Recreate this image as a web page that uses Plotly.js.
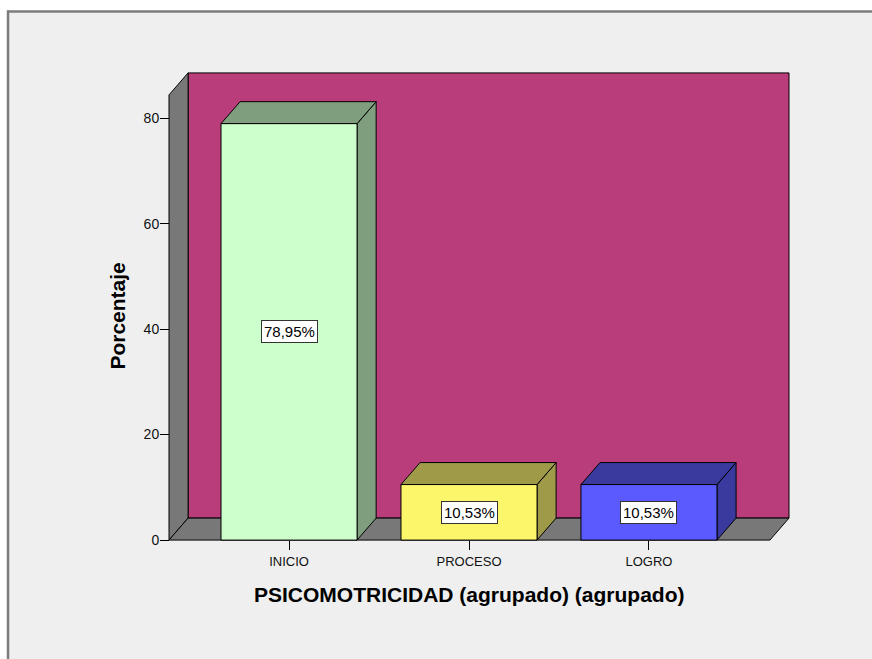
<!DOCTYPE html>
<html>
<head>
<meta charset="utf-8">
<script src="https://cdn.plot.ly/plotly-3.0.1.min.js"></script>
<style>html,body{margin:0;padding:0;background:#fff;}#chart{width:872px;height:659px;}</style>
</head>
<body>
<div id="chart"></div>
<script>
// ---- data ----
const categories = ['INICIO', 'PROCESO', 'LOGRO'];
const values = [78.95, 10.53, 10.53];
const yTickVals = [0, 20, 40, 60, 80];
const yTitle = 'Porcentaje';
const xTitle = 'PSICOMOTRICIDAD (agrupado) (agrupado)';

// ---- style ----
const frontColors = ['#ccffcc', '#fcf76a', '#5a5aff'];
const sideColors  = ['#7e9e7e', '#9e9a48', '#3a3a9e'];
const wallColor = '#ba3d7b';
const sideWall = '#787878';
const FONT = 'Liberation Sans, Arial, sans-serif';

// 3D geometry (data units)
const xMin = -0.667, xMax = 2.672; // front floor extent
const yTop = 84.4;                 // front top of left wall
const dX = 0.106, dY = 4.17;       // depth offset
const halfW = 0.378;               // half bar width
const padX = 0.05, padY = 1.5;

const traces = [];
function poly(xs, ys, color) {
  traces.push({
    type: 'scatter', mode: 'lines', x: xs.concat([xs[0]]), y: ys.concat([ys[0]]),
    fill: 'toself', fillcolor: color, line: {color: '#000', width: 1},
    hoverinfo: 'skip', showlegend: false
  });
}
// back wall
poly([xMin + dX, xMax + dX, xMax + dX, xMin + dX], [dY, dY, yTop + dY, yTop + dY], wallColor);
// left wall
poly([xMin, xMin, xMin + dX, xMin + dX], [0, yTop, yTop + dY, dY], sideWall);
// floor
poly([xMin, xMax, xMax + dX, xMin + dX], [0, 0, dY, dY], sideWall);

const annotations = [];
values.forEach((v, i) => {
  const l = i - halfW, r = i + halfW;
  poly([r, r + dX, r + dX, r], [0, dY, v + dY, v], sideColors[i]);
  poly([l, r, r + dX, l + dX], [v, v, v + dY, v + dY], sideColors[i]);
  poly([l, r, r, l], [0, 0, v, v], frontColors[i]);
  annotations.push({
    x: i, y: v / 2, xref: 'x', yref: 'y', showarrow: false,
    text: v.toFixed(2).replace('.', ',') + '%',
    font: {family: FONT, size: 15, color: '#000'},
    bgcolor: '#ffffff', bordercolor: '#333', borderwidth: 1, borderpad: 2
  });
});

const W = 872, H = 659;
const pxPerX = 180, pxPerY = 5.275;
const xr = [xMin - padX, xMax + dX + padX];
const yr = [-padY, yTop + dY + padY];
const plotW = (xr[1] - xr[0]) * pxPerX;
const plotH = (yr[1] - yr[0]) * pxPerY;
const left = 169 - padX * pxPerX;
const bottomPx = 540 + padY * pxPerY;
const mL = left, mR = W - left - plotW, mB = H - bottomPx, mT = bottomPx - plotH;
const px = x => (x - left) / plotW;      // pixel -> paper x
const py = y => (bottomPx - y) / plotH;  // pixel -> paper y

annotations.push({
  xref: 'x', yref: 'paper', x: (xMin + xMax) / 2, y: py(594),
  xanchor: 'center', yanchor: 'middle', showarrow: false, text: '<b>' + xTitle + '</b>',
  font: {family: FONT, size: 21, color: '#000'}
});
annotations.push({
  xref: 'paper', yref: 'paper', x: px(118), y: py(316.5),
  xanchor: 'center', yanchor: 'middle', showarrow: false, textangle: -90,
  text: '<b>' + yTitle + '</b>', font: {family: FONT, size: 21, color: '#000'}
});

const layout = {
  width: W, height: H,
  margin: {l: mL, r: mR, t: mT, b: mB, pad: 0},
  paper_bgcolor: '#ffffff', plot_bgcolor: 'rgba(0,0,0,0)',
  showlegend: false,
  font: {family: FONT, size: 13, color: '#111'},
  xaxis: {
    range: xr, anchor: 'free', position: (padY * pxPerY) / plotH,
    tickvals: [0, 1, 2], ticktext: categories, ticks: 'outside', ticklen: 9,
    tickcolor: '#000', tickwidth: 1, showgrid: false, zeroline: false, showline: false,
    tickfont: {family: FONT, size: 13, color: '#111'}, fixedrange: true
  },
  yaxis: {
    range: yr, anchor: 'free', position: (padX * pxPerX) / plotW,
    tickvals: yTickVals, ticks: 'outside', ticklen: 9, tickcolor: '#000', tickwidth: 1,
    ticklabelstandoff: -2,
    showgrid: false, zeroline: false, showline: false,
    tickfont: {family: FONT, size: 14, color: '#111'}, fixedrange: true
  },
  annotations: annotations,
  shapes: [
    {type: 'rect', xref: 'paper', yref: 'paper', layer: 'below',
     x0: px(8), x1: px(W + 40), y0: py(H + 40), y1: py(11.5),
     fillcolor: '#efefef', line: {width: 0}},
    {type: 'line', xref: 'paper', yref: 'paper', layer: 'below',
     x0: px(7), x1: px(W + 10), y0: py(11.5), y1: py(11.5),
     line: {color: '#7c7c7c', width: 2.5}},
    {type: 'line', xref: 'paper', yref: 'paper', layer: 'below',
     x0: px(8), x1: px(8), y0: py(10.5), y1: py(H + 10),
     line: {color: '#7c7c7c', width: 2.5}}
  ]
};

Plotly.newPlot('chart', traces, layout, {displayModeBar: false, staticPlot: true});
</script>
</body>
</html>
